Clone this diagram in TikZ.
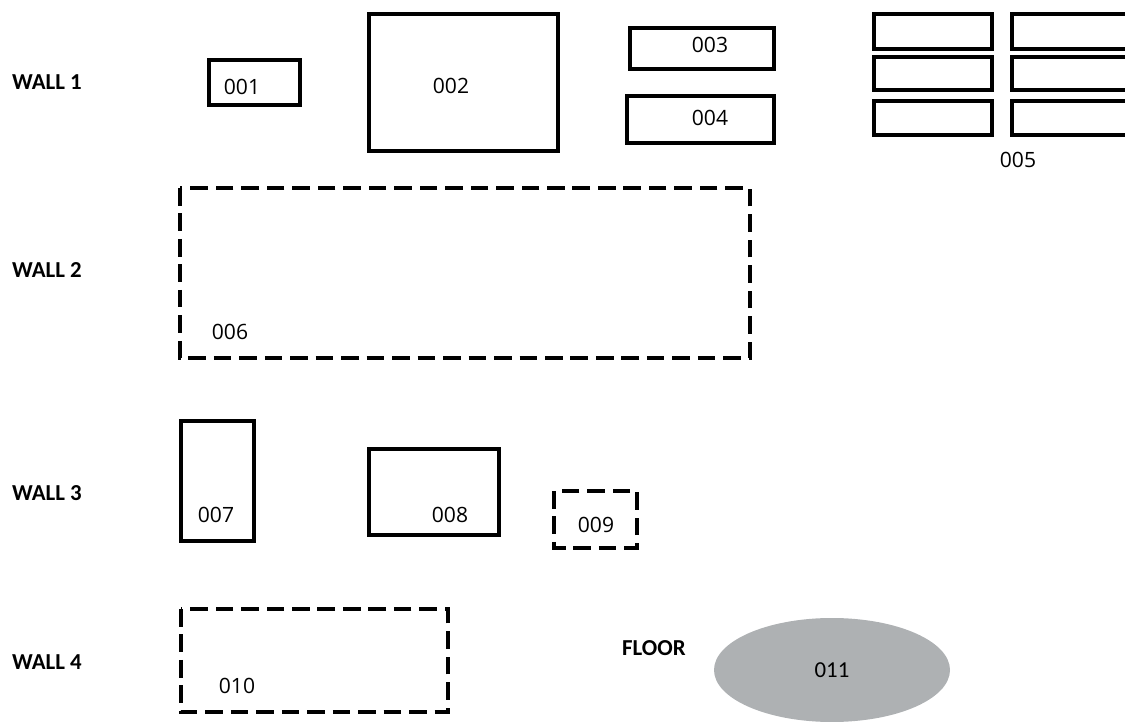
\documentclass[tikz,border=0pt]{standalone}
\usepackage{fontspec}
\setmainfont{Open Sans}
\newfontfamily\wallfont{Carlito}
\definecolor{floorgray}{HTML}{AEB1B3}

\begin{document}
\begin{tikzpicture}[x=0.02cm,y=-0.02cm,
  solidbox/.style={draw,line width=2.4pt},
  dashbox/.style={draw,line width=2.4pt,dash pattern=on 10pt off 4.5pt},
  tag/.style={font=\fontsize{12}{14}\selectfont},
  walltag/.style={font=\wallfont\bfseries\fontsize{13}{15}\selectfont,anchor=west}]
  \clip (0,0) rectangle (1125,722);
  % wall labels
  \node[walltag] (w1) at (6,82) {WALL 1};
  \node[walltag] (w2) at (6,270) {WALL 2};
  \node[walltag] (w3) at (6,493) {WALL 3};
  \node[walltag] (w4) at (6,662) {WALL 4};
  \node[walltag] (fl) at (616,648) {FLOOR};
  % wall 1
  \draw[solidbox] (209,60) rectangle (300,105);
  \node[tag] (n001) at (242,87) {001};
  \draw[solidbox] (369,14) rectangle (558,151);
  \node[tag] (n002) at (451,86) {002};
  \draw[solidbox] (630,28) rectangle (774,69);
  \node[tag] (n003) at (710,45) {003};
  \draw[solidbox] (627,96) rectangle (774,143);
  \node[tag] (n004) at (710,118) {004};
  \foreach \ya/\yb in {14/49,57/90,101/135}{
    \draw[solidbox] (874,\ya) rectangle (992,\yb);
    \draw[solidbox] (1012,\ya) rectangle (1135,\yb);
  }
  \node[tag] (n005) at (1018,160) {005};
  % wall 2
  \draw[dashbox] (180,188) rectangle (750,358);
  \node[tag] (n006) at (230,332) {006};
  % wall 3
  \draw[solidbox] (181,421) rectangle (254,541);
  \node[tag] (n007) at (216,515) {007};
  \draw[solidbox] (369,449) rectangle (499,535);
  \node[tag] (n008) at (450,515) {008};
  \draw[dashbox] (554,491) rectangle (637,548);
  \node[tag] (n009) at (596,525) {009};
  % wall 4
  \draw[dashbox] (181,609) rectangle (448,712);
  \node[tag] (n010) at (237,686) {010};
  % floor
  \fill[floorgray] (832,670) ellipse [x radius=118,y radius=52];
  \node[tag,font=\wallfont\fontsize{13}{15}\selectfont] (n011) at (832,670) {011};
\end{tikzpicture}
\end{document}
